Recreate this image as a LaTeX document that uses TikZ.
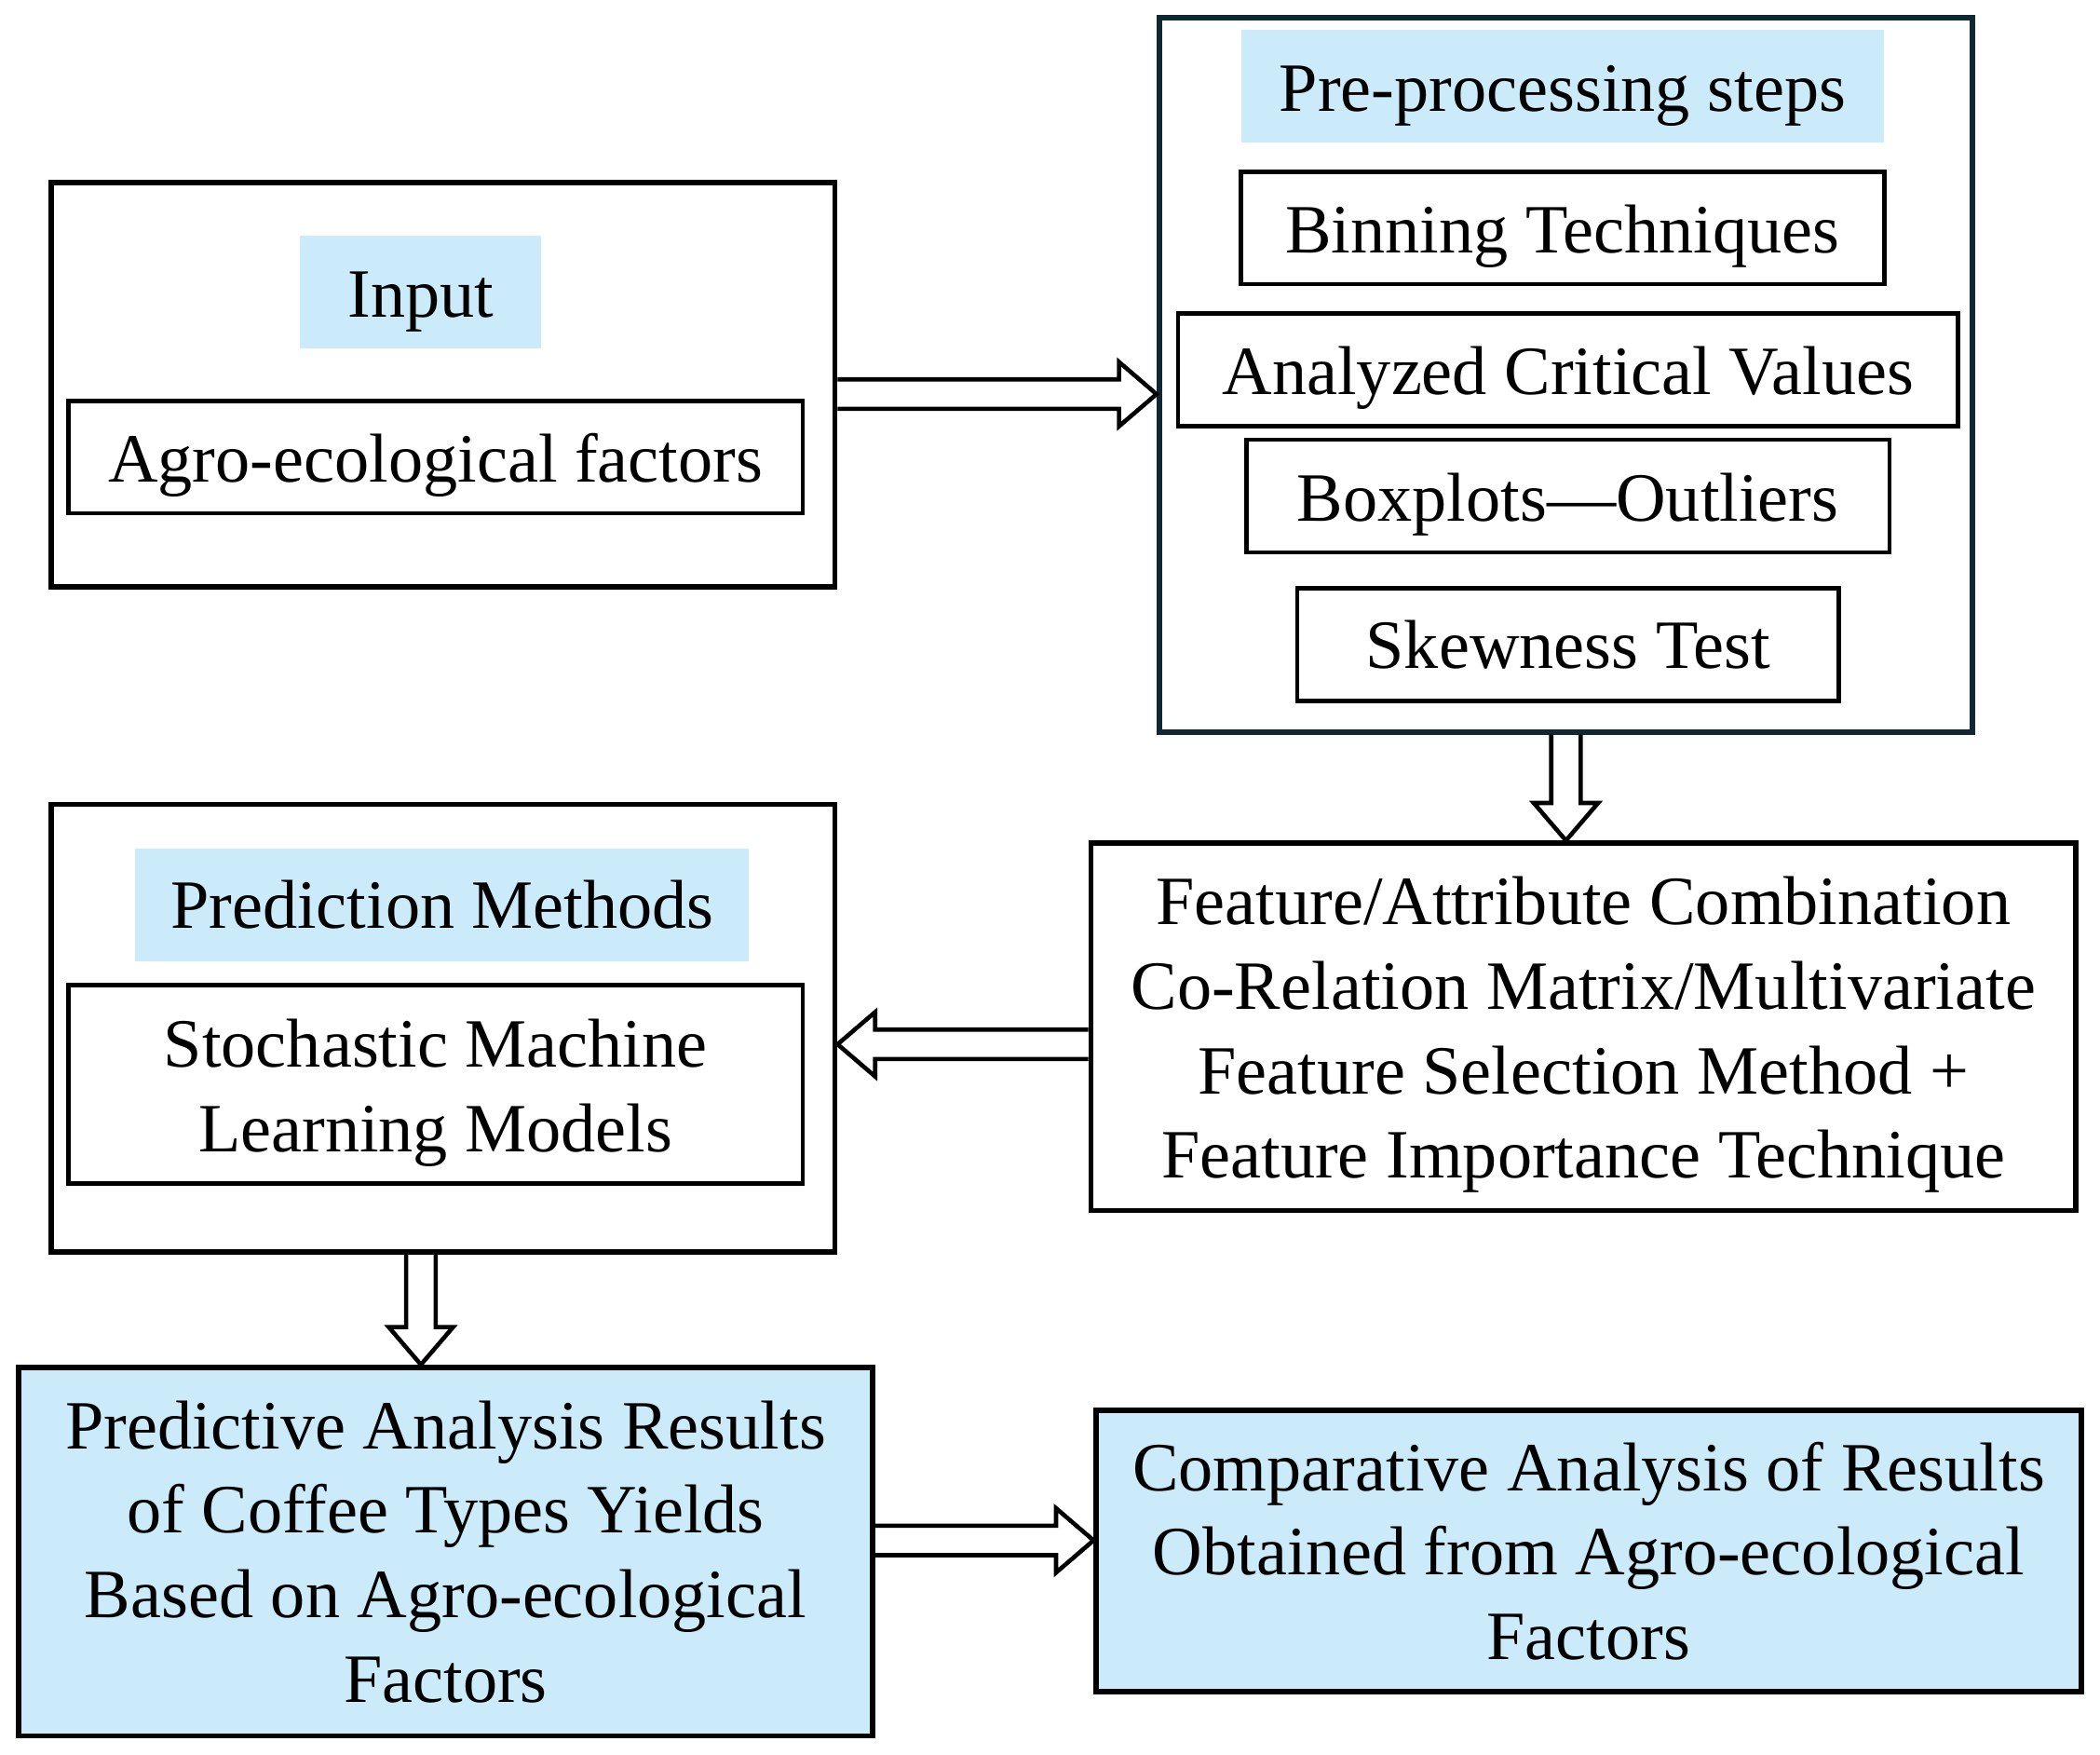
\documentclass[tikz,border=0pt]{standalone}
\usepackage{fontspec}
\setmainfont{Liberation Serif}
\usetikzlibrary{calc}
\definecolor{lightcyan}{RGB}{204,235,250}
\definecolor{darkslate}{RGB}{15,40,52}
\newcommand{\firstline}{\rule{0pt}{12pt}}
\begin{document}
\begin{tikzpicture}[x=0.25pt, y=-0.25pt,
    font=\fontsize{12.9}{15.75}\selectfont,
    outerbox/.style={draw, line width=1pt, inner sep=0pt},
    innerbox/.style={draw, line width=0.8pt, inner sep=0pt, align=center, minimum height=21pt},
    titlebox/.style={fill=lightcyan, inner sep=0pt, minimum height=21pt},
    lowered/.style={execute at begin node={\rule{0pt}{12pt}}},
    hollow/.style={line width=0.8pt, line join=miter, to path={
        let \p1=(\tikztostart), \p2=(\tikztotarget), \p3=($(\p2)!7pt!(\p1)$) in
        ($(\p1)!2.75pt!90:(\p2)$) -- ($(\p3)!2.75pt!90:(\p2)$) -- ($(\p3)!6pt!90:(\p2)$)
        -- (\p2) -- ($(\p3)!6pt!-90:(\p2)$) -- ($(\p3)!2.75pt!-90:(\p2)$) -- ($(\p1)!2.75pt!-90:(\p2)$)}}]
    \useasboundingbox (0,0) rectangle (1567,1309);
    % Input
    \node [outerbox, minimum width=146.25pt, minimum height=75.5pt] (input) at (330.5,287) {};
    \node [titlebox, lowered, minimum width=45pt] (inputtitle) at (314,218) {Input};
    \node [innerbox, lowered, minimum width=137pt] (agro) at (325,341) {Agro-ecological factors};
    % Pre-processing
    \node [outerbox, draw=darkslate, minimum width=151.75pt, minimum height=133.25pt] (pre) at (1168.5,279.5) {};
    \node [titlebox, lowered, minimum width=120pt] (pretitle) at (1166,64.5) {Pre-processing steps};
    \node [innerbox, lowered, minimum width=120pt] (binning) at (1166,170) {Binning Techniques};
    \node [innerbox, lowered, minimum width=145.5pt] (critical) at (1170,276) {Analyzed Critical Values};
    \node [innerbox, lowered, minimum width=120pt] (boxplots) at (1170,370) {Boxplots---Outliers};
    \node [innerbox, minimum width=101pt] (skewness) at (1170,481) {Skewness Test};
    % Feature selection
    \node [innerbox, line width=1pt, minimum width=183.75pt, minimum height=68.5pt] (feature) at (1181.5,766)
        {\firstline Feature/Attribute Combination\\Co-Relation Matrix/Multivariate\\Feature Selection Method +\\Feature Importance Technique};
    % Prediction
    \node [outerbox, minimum width=146.25pt, minimum height=83.5pt] (predict) at (330.5,767) {};
    \node [titlebox, minimum width=114.5pt] (predicttitle) at (330,675) {Prediction Methods};
    \node [innerbox, minimum width=137pt, minimum height=37pt] (stochastic) at (325,809) {\firstline Stochastic Machine\\Learning Models};
    % Results
    \node [innerbox, line width=1pt, fill=lightcyan, minimum width=159.25pt, minimum height=68.75pt] (results) at (332.5,1157.5)
        {Predictive Analysis Results\\of Coffee Types Yields\\Based on Agro-ecological\\Factors};
    \node [innerbox, line width=1pt, fill=lightcyan, minimum width=183.75pt, minimum height=52.5pt] (compare) at (1185.5,1157)
        {Comparative Analysis of Results\\Obtained from Agro-ecological\\Factors};
    % Arrows
    \coordinate (a1) at ([yshift=-1.75pt]input.east);
    \coordinate (a3) at ([yshift=-3.25pt]feature.west);
    \coordinate (a4) at ([xshift=-4.1pt]predict.south);
    \coordinate (a5) at ([yshift=2.1pt]results.east);
    \draw [hollow] (a1) to (a1 -| pre.west);
    \draw [hollow] (pre.south) to (pre.south |- feature.north);
    \draw [hollow] (a3) to (a3 -| predict.east);
    \draw [hollow] (a4) to (a4 |- results.north);
    \draw [hollow] (a5) to (a5 -| compare.west);
\end{tikzpicture}
\end{document}
